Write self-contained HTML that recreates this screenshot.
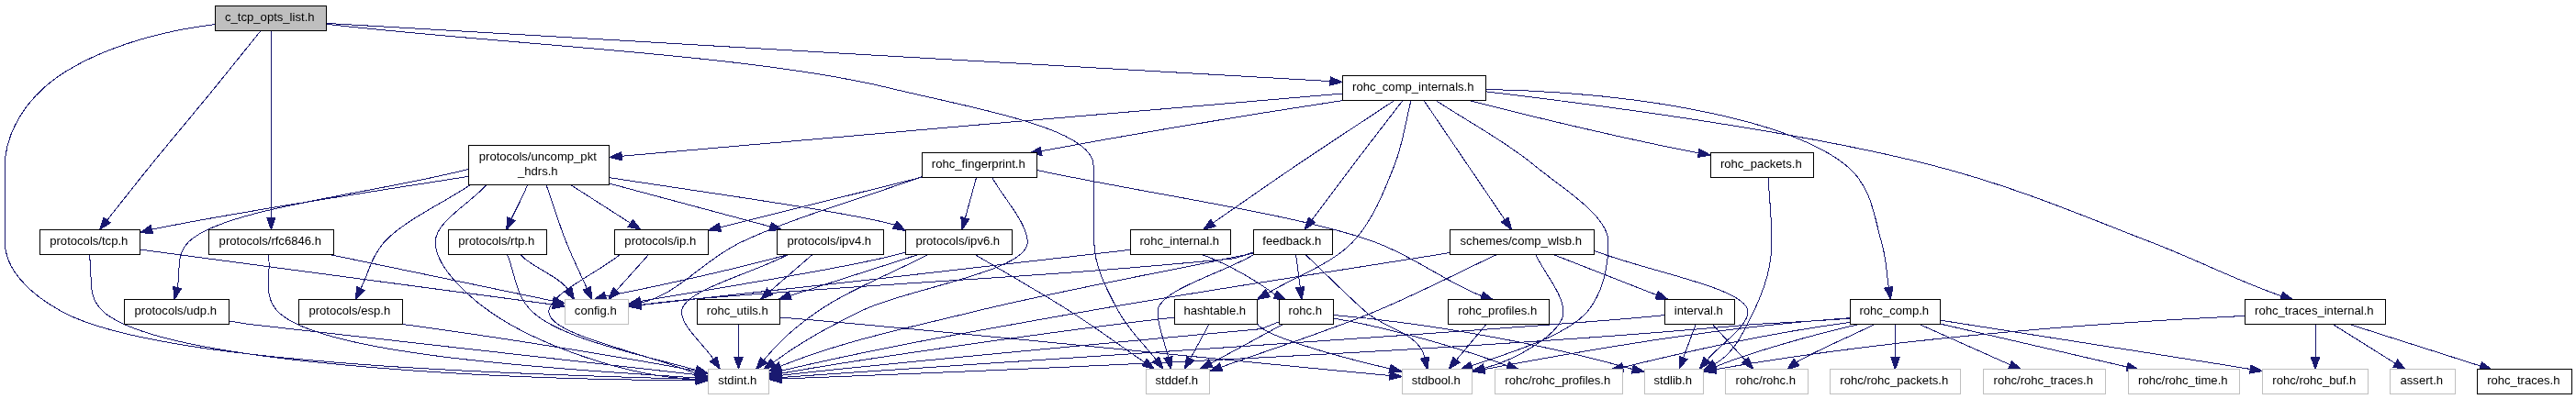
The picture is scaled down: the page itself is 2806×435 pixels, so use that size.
<!DOCTYPE html>
<html><head><meta charset="utf-8"><style>
html,body{margin:0;padding:0;background:#fff;}
svg{display:block;}
.t{will-change:transform;}
.e path{fill:none;stroke:#191970;stroke-width:1;shape-rendering:crispEdges;}
.e polygon{fill:#191970;stroke:#191970;stroke-width:1;shape-rendering:crispEdges;}
rect{shape-rendering:crispEdges;}
rect.n{fill:#fff;stroke:#000;stroke-width:1;}
rect.r{fill:#bfbfbf;stroke:#000;stroke-width:1;}
rect.x{fill:#fff;stroke:#bfbfbf;stroke-width:1;}
text{font-family:"Liberation Sans",sans-serif;font-size:13.1px;fill:#000;text-anchor:middle;}
</style></head><body>
<svg width="2806" height="435" viewBox="0 0 2806 435">
<rect width="2806" height="435" fill="#fff"/>
<g class="e">
<path d="M355.79,25.40C550.67,37.62 1196.76,73.99 1448.91,88.57"/>
<polygon class="a" points="1448.62,93.22 1462.22,89.40 1449.20,83.91"/>
<path d="M355.68,26.33C560.12,49.55 817.09,59.24 969.00,96.00C1063.20,118.79 1191.00,140.05 1191.00,180.00C1191.00,203.77 1191.80,237.08 1191.80,264.00C1191.80,290.37 1206.61,317.90 1218.70,340.00C1229.62,359.97 1245.64,374.65 1259.12,391.97"/>
<polygon class="a" points="1255.43,394.84 1267.30,402.50 1262.80,389.11"/>
<path d="M234.50,26.60C155.28,36.11 84.99,62.39 47.50,96.00C21.77,119.07 5.40,151.17 5.40,180.00C5.40,207.26 5.40,238.21 5.40,264.00C5.40,291.92 29.14,319.07 68.00,340.00C171.17,395.55 526.78,406.81 757.98,413.46"/>
<polygon class="a" points="757.84,418.13 771.30,413.85 758.11,408.80"/>
<path d="M284.00,33.50C267.23,54.33 251.88,73.69 233.70,96.00C212.52,121.99 185.24,154.25 164.40,180.00C146.91,201.61 132.60,220.04 116.69,240.06"/>
<polygon class="a" points="113.04,237.16 108.40,250.50 120.35,242.96"/>
<path d="M295.20,33.50C295.27,54.33 295.40,73.63 295.40,96.00C295.40,121.93 295.40,154.69 295.40,180.00C295.40,200.88 295.40,218.11 295.40,237.17"/>
<polygon class="a" points="290.73,237.17 295.40,250.50 300.07,237.17"/>
<path d="M1519.00,109.50C1483.53,133.00 1446.59,157.01 1412.60,180.00C1380.94,201.42 1351.85,221.95 1321.47,242.92"/>
<polygon class="a" points="1318.82,239.08 1310.50,250.50 1324.12,246.76"/>
<path d="M1537.00,109.50C1531.00,133.00 1528.38,156.07 1519.00,180.00C1508.24,207.43 1495.30,241.11 1473.40,264.00C1450.13,288.32 1411.75,301.08 1380.93,319.63"/>
<polygon class="a" points="1378.52,315.63 1369.50,326.50 1383.33,323.63"/>
<path d="M1564.00,109.50C1599.67,133.00 1639.11,153.51 1671.00,180.00C1701.44,205.28 1752.00,234.52 1752.00,264.00C1752.00,288.33 1746.63,319.35 1728.80,340.00C1705.84,366.60 1644.57,384.46 1603.04,398.81"/>
<polygon class="a" points="1601.51,394.40 1590.43,403.17 1604.56,403.22"/>
<path d="M1551.00,109.50C1566.93,133.00 1583.54,157.50 1598.80,180.00C1612.81,200.66 1625.68,219.64 1639.12,239.46"/>
<polygon class="a" points="1635.25,242.08 1646.60,250.50 1642.98,236.85"/>
<path d="M1528.00,109.50C1509.93,133.00 1490.94,157.41 1473.80,180.00C1458.09,200.71 1443.93,219.89 1428.99,239.83"/>
<polygon class="a" points="1425.26,237.03 1421.00,250.50 1432.73,242.63"/>
<path d="M1463.00,109.50C1366.16,124.15 1218.13,149.17 1133.87,164.81"/>
<polygon class="a" points="1133.07,160.21 1120.97,167.52 1134.98,169.35"/>
<path d="M1618.50,97.40C1792.10,100.87 1949.95,131.72 2010.60,180.00C2039.75,203.21 2041.96,239.24 2049.50,264.00C2055.04,282.19 2054.71,296.89 2057.31,313.33"/>
<polygon class="a" points="2052.70,314.06 2059.40,326.50 2061.92,312.60"/>
<path d="M1462.50,102.00C1278.61,117.23 861.26,153.91 677.21,170.26"/>
<polygon class="a" points="676.80,165.61 663.93,171.44 677.63,174.91"/>
<path d="M1600.40,109.50C1658.63,124.81 1770.40,151.49 1850.13,166.87"/>
<polygon class="a" points="1849.44,171.48 1863.37,169.15 1851.02,162.29"/>
<path d="M1618.50,99.80C1781.36,119.34 1971.74,146.11 2104.00,180.00C2198.89,204.32 2274.47,237.76 2343.00,264.00C2395.68,284.17 2438.02,306.72 2485.29,322.74"/>
<polygon class="a" points="2483.79,327.16 2497.92,327.02 2486.79,318.32"/>
<path d="M1231.35,272.33C1117.46,286.64 818.41,319.07 697.97,332.58"/>
<polygon class="a" points="697.30,327.96 684.67,334.29 698.49,337.21"/>
<path d="M1307.81,276.95C1339.93,288.72 1371.00,307.71 1389.13,321.35"/>
<polygon class="a" points="1387.10,325.56 1401.14,327.13 1391.15,317.15"/>
<path d="M1452.50,347.00C1522.59,359.06 1600.68,383.02 1642.21,398.84"/>
<polygon class="a" points="1640.70,403.25 1654.83,403.13 1643.71,394.42"/>
<path d="M1452.50,343.50C1551.66,351.98 1675.26,373.41 1778.07,402.41"/>
<polygon class="a" points="1777.34,407.02 1791.37,405.39 1779.38,397.92"/>
<path d="M1397.50,353.50C1371.31,367.71 1345.11,381.93 1318.92,396.14"/>
<polygon class="a" points="1316.69,392.04 1307.20,402.50 1321.14,400.24"/>
<path d="M1393.50,350.70C1387.69,353.12 1380.11,356.13 1373.38,358.65C1162.05,378.11 934.52,399.35 850.84,409.31"/>
<polygon class="a" points="850.27,404.68 837.60,410.93 851.40,413.95"/>
<path d="M1317.00,353.50C1310.23,365.93 1303.45,378.36 1296.68,390.79"/>
<polygon class="a" points="1292.58,388.56 1290.30,402.50 1300.78,393.02"/>
<path d="M1279.50,346.00C1155.31,360.04 930.20,392.68 850.96,407.17"/>
<polygon class="a" points="850.16,402.57 837.82,409.43 851.75,411.77"/>
<path d="M1369.52,352.78C1375.79,366.00 1454.21,388.18 1514.04,402.01"/>
<polygon class="a" points="1513.00,406.56 1527.04,404.97 1515.07,397.46"/>
<path d="M1736.50,273.30C1792.33,295.53 1904.00,314.03 1904.00,340.00C1904.00,356.02 1874.42,374.89 1859.62,392.33"/>
<polygon class="a" points="1856.06,389.31 1851.00,402.50 1863.18,395.35"/>
<path d="M1630.50,277.50C1586.00,298.33 1544.45,320.37 1497.00,340.00C1444.96,361.53 1385.83,380.18 1330.24,400.27"/>
<polygon class="a" points="1328.65,395.88 1317.70,404.80 1331.83,404.66"/>
<path d="M1579.50,275.50C1446.33,297.00 1306.56,317.43 1180.00,340.00C1064.76,360.56 959.53,378.57 850.69,404.34"/>
<polygon class="a" points="849.90,399.73 838.00,407.35 852.05,408.82"/>
<path d="M1672.60,277.50C1682.73,298.33 1703.00,321.07 1703.00,340.00C1703.00,363.19 1650.31,392.95 1616.57,401.41"/>
<polygon class="a" points="1615.43,396.89 1603.63,404.66 1617.70,405.94"/>
<path d="M1692.00,277.50C1729.53,292.21 1767.06,306.92 1804.59,321.63"/>
<polygon class="a" points="1802.88,325.98 1817.00,326.50 1806.29,317.29"/>
<path d="M1847.20,353.50C1842.68,365.67 1838.16,377.83 1833.64,390.00"/>
<polygon class="a" points="1829.27,388.38 1829.00,402.50 1838.02,391.63"/>
<path d="M1813.50,343.50C1720.74,354.77 1021.99,399.22 850.67,411.52"/>
<polygon class="a" points="850.79,406.83 837.83,412.44 851.46,416.14"/>
<path d="M1865.30,353.50C1877.20,366.55 1889.11,379.60 1901.01,392.65"/>
<polygon class="a" points="1897.57,395.79 1910.00,402.50 1904.46,389.50"/>
<path d="M1365.50,275.00C1359.09,277.24 1351.45,279.76 1344.56,281.80C1110.94,304.32 1039.13,303.04 747.00,326.68C730.98,328.35 713.47,330.43 697.86,332.40"/>
<polygon class="a" points="697.32,327.76 684.70,334.09 698.52,337.02"/>
<path d="M1411.60,277.50C1413.16,289.43 1414.72,301.35 1416.27,313.28"/>
<polygon class="a" points="1411.65,313.88 1418.00,326.50 1420.90,312.67"/>
<path d="M1366.00,277.50C1331.00,298.33 1261.00,316.28 1261.00,340.00C1261.00,355.30 1268.71,373.01 1272.57,389.52"/>
<polygon class="a" points="1268.02,390.58 1275.60,402.50 1277.11,388.45"/>
<path d="M1365.50,276.00C1263.67,297.33 1152.23,317.30 1060.00,340.00C982.47,359.08 918.19,371.82 849.97,399.26"/>
<polygon class="a" points="848.23,394.93 837.60,404.23 851.71,403.59"/>
<path d="M1422.00,277.50C1443.90,298.33 1465.49,320.39 1487.70,340.00C1509.07,358.87 1546.04,362.74 1552.00,390.09"/>
<polygon class="a" points="1547.44,391.09 1554.83,403.12 1556.56,389.10"/>
<path d="M1004.50,192.50C938.77,216.33 862.45,237.72 807.30,264.00C764.16,284.55 739.17,321.35 697.30,330.15"/>
<polygon class="a" points="696.79,325.48 684.70,332.79 698.71,334.62"/>
<path d="M1080.34,192.82C1093.32,216.55 1119.30,243.21 1119.30,264.00C1119.30,296.51 986.71,314.61 936.00,340.00C897.78,359.13 872.58,372.68 842.37,395.03"/>
<polygon class="a" points="839.60,391.28 831.66,402.96 845.15,398.78"/>
<path d="M1005.00,193.00C931.48,211.26 857.96,229.52 784.44,247.79"/>
<polygon class="a" points="783.32,243.26 771.50,251.00 785.57,252.31"/>
<path d="M1063.86,192.44C1060.63,203.96 1055.58,222.50 1051.43,237.59"/>
<polygon class="a" points="1046.87,236.57 1047.80,250.66 1055.87,239.06"/>
<path d="M1129.70,185.56C1252.40,211.71 1416.51,234.16 1497.80,264.00C1541.31,279.97 1580.38,310.75 1614.29,322.67"/>
<polygon class="a" points="1612.74,327.07 1626.87,327.09 1615.83,318.27"/>
<path d="M706.60,277.50C694.93,290.52 683.26,303.55 671.60,316.57"/>
<polygon class="a" points="668.12,313.46 662.70,326.50 675.07,319.68"/>
<path d="M675.50,277.50C649.60,298.33 597.80,320.79 597.80,340.00C597.80,365.46 705.41,385.22 759.21,407.83"/>
<polygon class="a" points="757.40,412.14 771.50,413.00 761.02,403.53"/>
<path d="M986.50,275.00C939.59,289.13 780.11,314.51 697.83,328.42"/>
<polygon class="a" points="696.81,323.86 684.79,331.28 698.81,332.98"/>
<path d="M1062.00,277.50C1096.87,298.33 1134.37,319.33 1166.60,340.00C1195.37,358.45 1219.94,376.63 1246.61,394.95"/>
<polygon class="a" points="1243.97,398.80 1257.60,402.50 1249.25,391.10"/>
<path d="M1011.00,277.50C970.67,298.33 922.25,317.43 890.00,340.00C864.92,357.55 849.40,371.62 831.92,392.79"/>
<polygon class="a" points="828.32,389.81 823.43,403.07 835.52,395.76"/>
<path d="M1000.40,277.50C953.83,292.47 907.26,307.45 860.69,322.42"/>
<polygon class="a" points="859.26,317.98 848.00,326.50 862.12,326.86"/>
<path d="M804.50,353.50C804.50,365.39 804.50,377.28 804.50,389.17"/>
<polygon class="a" points="799.83,389.17 804.50,402.50 809.17,389.17"/>
<path d="M850.15,346.05C1014.60,359.09 1363.21,395.69 1513.91,409.48"/>
<polygon class="a" points="1513.50,414.13 1527.19,410.66 1514.32,404.83"/>
<path d="M1619.00,353.50C1608.19,366.42 1597.37,379.35 1586.56,392.27"/>
<polygon class="a" points="1582.98,389.28 1578.00,402.50 1590.14,395.27"/>
<path d="M2015.28,351.43C1918.59,364.12 1826.94,386.08 1767.81,400.43"/>
<polygon class="a" points="1766.80,395.88 1754.67,403.12 1768.67,405.02"/>
<path d="M2027.46,352.95C1970.03,365.83 1900.30,386.39 1868.06,400.19"/>
<polygon class="a" points="1866.49,395.79 1855.50,404.67 1869.63,404.58"/>
<path d="M2015.10,347.30C1982.59,349.49 1944.92,351.84 1910.69,353.50C1541.32,387.40 996.54,407.40 851.00,413.02"/>
<polygon class="a" points="850.82,408.35 837.68,413.53 851.18,417.68"/>
<path d="M2014.92,346.68C1886.41,355.61 1765.27,374.89 1617.00,402.61"/>
<polygon class="a" points="1615.89,398.07 1603.63,405.10 1617.60,407.24"/>
<path d="M2042.98,352.95C2020.63,364.72 1979.71,381.28 1956.96,394.92"/>
<polygon class="a" points="1954.08,391.24 1946.45,403.13 1959.83,398.59"/>
<path d="M2112.59,352.87C2167.72,365.56 2256.94,386.16 2316.69,399.98"/>
<polygon class="a" points="2316.02,404.62 2330.06,403.10 2318.14,395.53"/>
<path d="M2064.50,352.95C2064.50,362.74 2064.50,377.18 2064.50,389.61"/>
<polygon class="a" points="2059.83,389.55 2064.50,402.88 2069.17,389.55"/>
<path d="M2113.92,349.18C2185.75,360.24 2321.60,381.23 2451.03,402.42"/>
<polygon class="a" points="2450.45,407.05 2464.37,404.64 2451.98,397.85"/>
<path d="M2089.54,352.95C2116.06,364.93 2158.76,383.91 2189.46,397.60"/>
<polygon class="a" points="2187.67,401.91 2201.74,403.13 2191.50,393.40"/>
<path d="M595.00,201.50C602.27,222.33 609.04,244.45 616.80,264.00C623.88,281.84 631.78,297.55 639.26,314.32"/>
<polygon class="a" points="635.00,316.23 644.70,326.50 643.53,312.42"/>
<path d="M530.00,201.50C511.40,222.33 474.20,241.84 474.20,264.00C474.20,287.80 503.17,318.44 534.00,340.00C582.14,373.66 679.56,410.94 758.13,413.37"/>
<polygon class="a" points="758.00,418.03 771.47,413.78 758.29,408.70"/>
<path d="M621.60,201.50C643.33,215.43 665.05,229.37 686.78,243.30"/>
<polygon class="a" points="684.26,247.23 698.00,250.50 689.30,239.37"/>
<path d="M663.50,193.60C760.05,208.70 917.15,229.93 974.73,245.11"/>
<polygon class="a" points="972.46,249.19 986.38,251.59 977.00,241.03"/>
<path d="M574.60,201.50C570.08,213.35 562.90,226.53 557.00,238.61"/>
<polygon class="a" points="552.73,236.74 551.66,250.82 561.28,240.48"/>
<path d="M510.50,184.40C408.73,210.93 241.51,227.09 205.20,264.00C190.60,278.84 197.17,297.03 193.15,313.54"/>
<polygon class="a" points="188.62,312.44 190.00,326.50 197.69,314.65"/>
<path d="M663.50,200.00C722.04,215.68 780.58,231.37 839.12,247.05"/>
<polygon class="a" points="837.91,251.56 852.00,250.50 840.33,242.54"/>
<path d="M512.50,201.50C481.17,222.33 438.52,241.43 418.50,264.00C404.32,279.99 401.50,297.73 393.00,314.59"/>
<polygon class="a" points="388.83,312.49 387.00,326.50 397.17,316.69"/>
<path d="M510.50,192.30C425.59,205.96 262.91,229.87 163.95,250.49C162.80,250.82 166.57,249.76 165.38,250.09"/>
<polygon class="a" points="164.13,245.59 152.54,253.67 166.64,254.58"/>
<path d="M566.54,276.95C574.69,288.88 610.20,301.96 618.87,315.65"/>
<polygon class="a" points="614.85,318.02 625.65,327.13 622.88,313.28"/>
<path d="M552.40,277.35C561.60,298.23 560.83,322.18 580.00,340.00C611.88,369.63 697.56,386.57 758.37,403.43"/>
<polygon class="a" points="756.93,407.87 771.02,406.94 759.42,398.88"/>
<path d="M249.84,350.00C257.14,351.19 264.54,352.39 271.56,353.50C452.71,374.33 673.29,397.55 757.64,408.43"/>
<polygon class="a" points="757.23,413.08 771.08,410.27 758.50,403.83"/>
<path d="M858.00,277.50C824.36,287.40 725.84,310.63 659.52,322.95"/>
<polygon class="a" points="658.14,318.49 646.78,326.88 660.90,327.41"/>
<path d="M858.50,277.50C819.83,298.33 742.50,316.69 742.50,340.00C742.50,355.98 765.54,374.29 777.06,391.43"/>
<polygon class="a" points="773.19,394.04 784.50,402.50 780.94,388.83"/>
<path d="M885.00,277.50C869.52,290.92 854.05,304.34 838.57,317.76"/>
<polygon class="a" points="835.52,314.24 828.50,326.50 841.63,321.29"/>
<path d="M433.76,352.87C539.93,366.99 687.85,390.94 758.19,404.46"/>
<polygon class="a" points="757.08,408.99 771.12,407.38 759.14,399.89"/>
<path d="M152.61,272.07C302.50,292.06 452.39,312.05 602.28,332.04"/>
<polygon class="a" points="601.67,336.66 615.50,333.80 602.90,327.41"/>
<path d="M97.00,277.50C102.27,298.33 92.56,322.28 112.80,340.00C177.04,396.25 541.54,414.05 758.07,414.70"/>
<polygon class="a" points="758.03,419.37 771.38,414.74 758.06,410.04"/>
<path d="M1926.05,192.60C1927.36,216.40 1930.00,240.02 1930.00,264.00C1930.00,289.14 1921.16,317.33 1910.00,340.00C1899.19,361.97 1889.36,385.14 1867.75,396.88"/>
<polygon class="a" points="1865.52,392.78 1856.03,403.24 1869.98,400.98"/>
<path d="M2445.27,344.39C2324.11,350.06 2084.02,364.89 1868.89,402.66"/>
<polygon class="a" points="1867.78,398.12 1855.50,405.11 1869.45,407.30"/>
<path d="M2522.00,352.95C2522.00,362.74 2522.00,377.18 2522.00,389.61"/>
<polygon class="a" points="2517.33,389.55 2522.00,402.88 2526.67,389.55"/>
<path d="M2540.08,352.95C2558.40,364.40 2587.74,382.66 2609.19,396.18"/>
<polygon class="a" points="2606.76,400.16 2620.57,403.13 2611.62,392.20"/>
<path d="M2557.34,352.95C2595.81,365.31 2658.99,385.29 2701.99,399.06"/>
<polygon class="a" points="2700.56,403.50 2714.68,403.13 2703.41,394.62"/>
<path d="M359.00,277.50C440.15,294.36 521.30,311.22 602.45,328.09"/>
<polygon class="a" points="601.50,332.66 615.50,330.80 603.39,323.52"/>
<path d="M292.40,277.50C295.93,298.33 285.20,322.40 303.00,340.00C350.98,387.44 604.69,401.84 757.87,411.92"/>
<polygon class="a" points="757.89,416.60 771.50,412.82 758.50,407.29"/>

</g>
<g class="t">
<rect class="r" x="234.5" y="6.5" width="121.0" height="27.0"/>
<text x="293.8" y="23.0">c_tcp_opts_list.h</text>
<rect class="n" x="1462.5" y="82.5" width="156.0" height="27.0"/>
<text x="1539.3" y="99.0">rohc_comp_internals.h</text>
<rect class="n" x="510.5" y="158.5" width="153.0" height="43.0"/>
<text x="585.8" y="175.0">protocols/uncomp_pkt</text>
<text x="585.8" y="191.0">_hdrs.h</text>
<rect class="n" x="1004.5" y="166.5" width="125.0" height="27.0"/>
<text x="1065.8" y="183.0">rohc_fingerprint.h</text>
<rect class="n" x="1863.5" y="166.5" width="112.0" height="27.0"/>
<text x="1918.3" y="183.0">rohc_packets.h</text>
<rect class="n" x="43.5" y="250.5" width="109.0" height="27.0"/>
<text x="96.8" y="267.0">protocols/tcp.h</text>
<rect class="n" x="227.5" y="250.5" width="136.0" height="27.0"/>
<text x="294.3" y="267.0">protocols/rfc6846.h</text>
<rect class="n" x="488.5" y="250.5" width="107.0" height="27.0"/>
<text x="540.8" y="267.0">protocols/rtp.h</text>
<rect class="n" x="669.5" y="250.5" width="102.0" height="27.0"/>
<text x="719.3" y="267.0">protocols/ip.h</text>
<rect class="n" x="846.5" y="250.5" width="116.0" height="27.0"/>
<text x="903.3" y="267.0">protocols/ipv4.h</text>
<rect class="n" x="986.5" y="250.5" width="116.0" height="27.0"/>
<text x="1043.3" y="267.0">protocols/ipv6.h</text>
<rect class="n" x="1231.5" y="250.5" width="109.0" height="27.0"/>
<text x="1284.8" y="267.0">rohc_internal.h</text>
<rect class="n" x="1365.5" y="250.5" width="86.0" height="27.0"/>
<text x="1407.3" y="267.0">feedback.h</text>
<rect class="n" x="1579.5" y="250.5" width="157.0" height="27.0"/>
<text x="1656.8" y="267.0">schemes/comp_wlsb.h</text>
<rect class="n" x="135.5" y="326.5" width="114.0" height="27.0"/>
<text x="191.3" y="343.0">protocols/udp.h</text>
<rect class="n" x="325.5" y="326.5" width="113.0" height="27.0"/>
<text x="380.8" y="343.0">protocols/esp.h</text>
<rect class="x" x="615.5" y="326.5" width="69.0" height="27.0"/>
<text x="648.8" y="343.0">config.h</text>
<rect class="n" x="759.5" y="326.5" width="90.0" height="27.0"/>
<text x="803.3" y="343.0">rohc_utils.h</text>
<rect class="n" x="1279.5" y="326.5" width="90.0" height="27.0"/>
<text x="1323.3" y="343.0">hashtable.h</text>
<rect class="n" x="1393.5" y="326.5" width="59.0" height="27.0"/>
<text x="1421.8" y="343.0">rohc.h</text>
<rect class="n" x="1577.5" y="326.5" width="110.0" height="27.0"/>
<text x="1631.3" y="343.0">rohc_profiles.h</text>
<rect class="n" x="1813.5" y="326.5" width="76.0" height="27.0"/>
<text x="1850.3" y="343.0">interval.h</text>
<rect class="n" x="2015.5" y="326.5" width="98.0" height="27.0"/>
<text x="2063.3" y="343.0">rohc_comp.h</text>
<rect class="n" x="2445.5" y="326.5" width="153.0" height="27.0"/>
<text x="2520.8" y="343.0">rohc_traces_internal.h</text>
<rect class="x" x="771.5" y="402.5" width="66.0" height="27.0"/>
<text x="803.3" y="419.0">stdint.h</text>
<rect class="x" x="1248.5" y="402.5" width="69.0" height="27.0"/>
<text x="1281.8" y="419.0">stddef.h</text>
<rect class="x" x="1527.5" y="402.5" width="76.0" height="27.0"/>
<text x="1564.3" y="419.0">stdbool.h</text>
<rect class="x" x="1628.5" y="402.5" width="139.0" height="27.0"/>
<text x="1696.8" y="419.0">rohc/rohc_profiles.h</text>
<rect class="x" x="1791.5" y="402.5" width="64.0" height="27.0"/>
<text x="1822.3" y="419.0">stdlib.h</text>
<rect class="x" x="1879.5" y="402.5" width="90.0" height="27.0"/>
<text x="1923.3" y="419.0">rohc/rohc.h</text>
<rect class="x" x="1993.5" y="402.5" width="142.0" height="27.0"/>
<text x="2063.3" y="419.0">rohc/rohc_packets.h</text>
<rect class="x" x="2160.5" y="402.5" width="133.0" height="27.0"/>
<text x="2225.8" y="419.0">rohc/rohc_traces.h</text>
<rect class="x" x="2318.5" y="402.5" width="121.0" height="27.0"/>
<text x="2377.8" y="419.0">rohc/rohc_time.h</text>
<rect class="x" x="2464.5" y="402.5" width="115.0" height="27.0"/>
<text x="2520.8" y="419.0">rohc/rohc_buf.h</text>
<rect class="x" x="2603.5" y="402.5" width="71.0" height="27.0"/>
<text x="2637.8" y="419.0">assert.h</text>
<rect class="n" x="2698.5" y="402.5" width="103.0" height="27.0"/>
<text x="2748.8" y="419.0">rohc_traces.h</text>
</g>
</svg>
</body></html>
